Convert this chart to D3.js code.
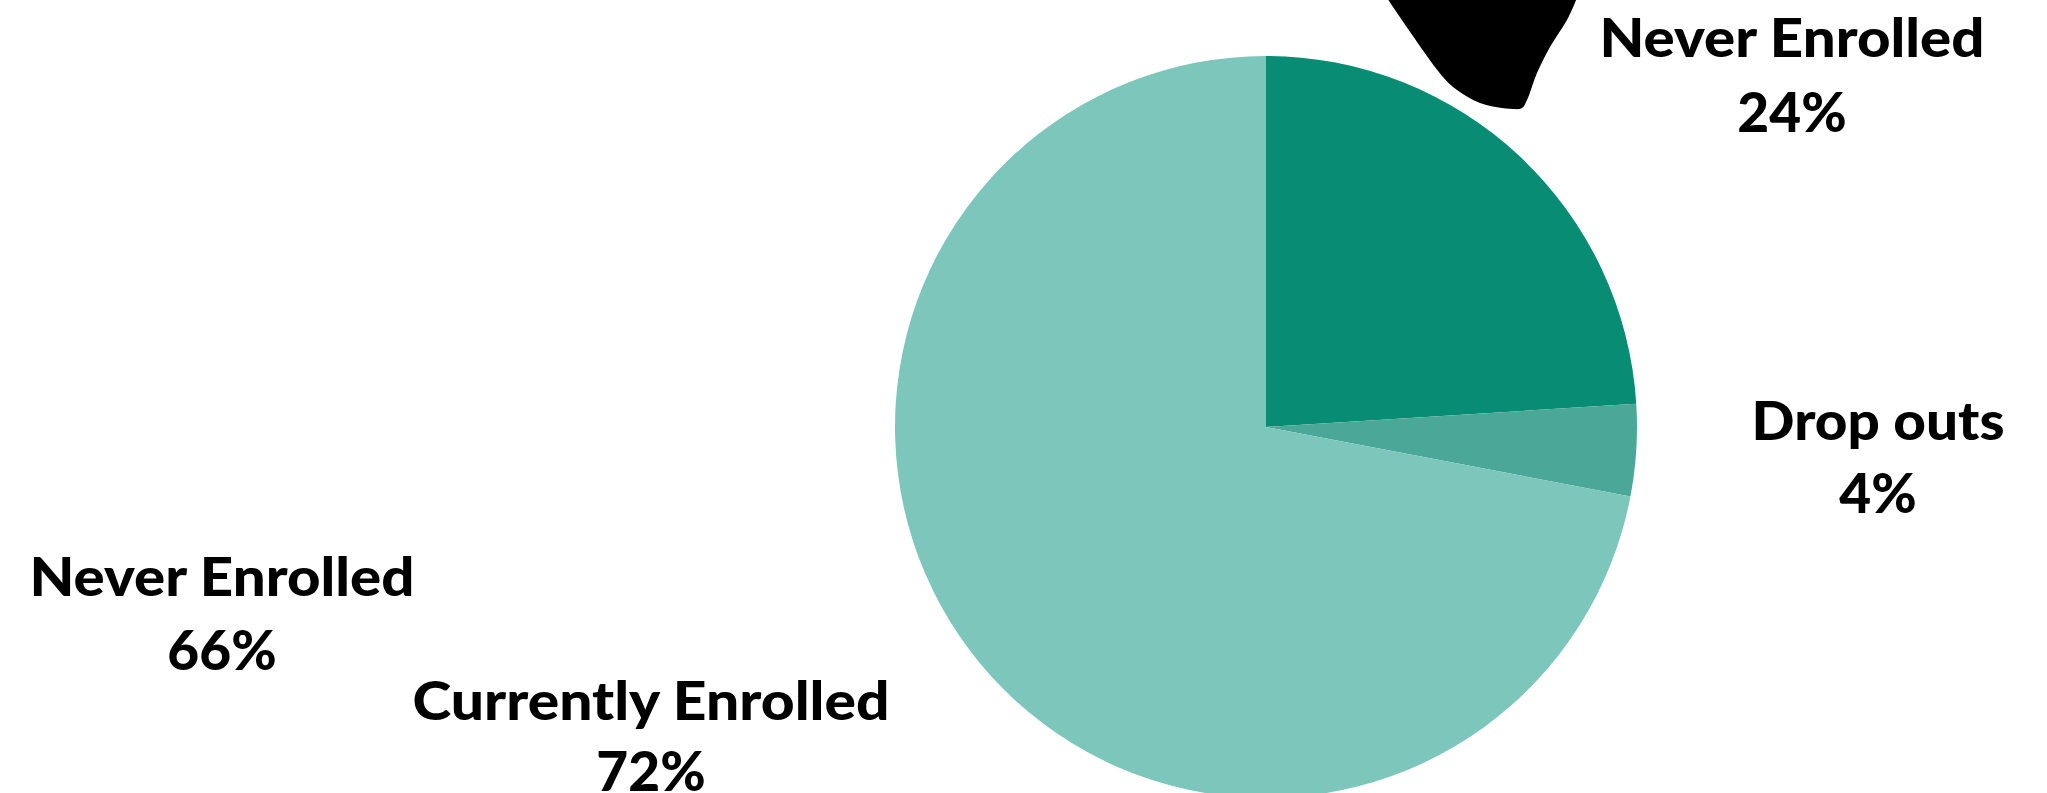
<!DOCTYPE html>
<html>
<head>
<meta charset="utf-8">
<script src="https://cdn.jsdelivr.net/npm/d3@7"></script>
<style>
  html, body { margin: 0; padding: 0; background: #ffffff; overflow: hidden; }
  svg { display: block; }
  text { font-family: Lato, "Open Sans", sans-serif; font-weight: 900; fill: #000; }
</style>
</head>
<body>
<svg id="chart" width="2047" height="793"></svg>
<script>
// Enrolment status shares (percent), drawn clockwise from 12 o'clock
const categories = ["Never Enrolled", "Drop outs", "Currently Enrolled"];
const shares = [24, 4, 72];
const sliceColors = ["#098c74", "#4ba899", "#7dc6bc"];

// Text callouts: heading line and value line
const calloutTitles = ["Never Enrolled", "Drop outs", "Never Enrolled", "Currently Enrolled"];
const calloutValues = ["24%", "4%", "66%", "72%"];

const W = 2047, H = 793;
const svg = d3.select("#chart");

// Decorative dark blob at the top edge
const blobPts = [
  [1387, -2], [1443, 77], [1457, 90], [1480, 103], [1513, 109],
  [1522, 108], [1527, 100], [1537, 73], [1550, 47], [1567, 20], [1577, -2]
];
svg.append("path")
  .attr("d", d3.line().curve(d3.curveCatmullRom.alpha(0.5))(blobPts) + "Z")
  .attr("fill", "#000");

// Pie
const cx = 1266, cy = 427, R = 371;
const pie = d3.pie().sort(null).value(d => d.value);
const arc = d3.arc().innerRadius(0).outerRadius(R);
const data = categories.map((c, i) => ({ name: c, value: shares[i], color: sliceColors[i] }));

svg.append("g")
  .attr("transform", `translate(${cx},${cy})`)
  .selectAll("path")
  .data(pie(data))
  .join("path")
  .attr("d", arc)
  .attr("fill", d => d.data.color);

// Callout placement (centre x, title baseline, value baseline, title width)
const calloutLayout = [
  { x: 1792, y1: 57,  y2: 132, w: 385 },
  { x: 1878, y1: 440, y2: 513, w: 253 },
  { x: 222,  y1: 596, y2: 670, w: 385 },
  { x: 651,  y1: 720, y2: 791, w: 477 }
];
const fontSize = 53;
const valueSize = 55;

const callouts = svg.append("g").selectAll("g")
  .data(calloutTitles.map((t, i) => ({ title: t, value: calloutValues[i], ...calloutLayout[i] })))
  .join("g");

callouts.append("text")
  .attr("x", d => d.x)
  .attr("y", d => d.y1)
  .attr("text-anchor", "middle")
  .attr("font-size", fontSize)
  .attr("textLength", d => d.w)
  .attr("lengthAdjust", "spacingAndGlyphs")
  .text(d => d.title);

callouts.append("text")
  .attr("x", d => d.x)
  .attr("y", d => d.y2)
  .attr("text-anchor", "middle")
  .attr("font-size", valueSize)
  .text(d => d.value);
</script>
</body>
</html>
